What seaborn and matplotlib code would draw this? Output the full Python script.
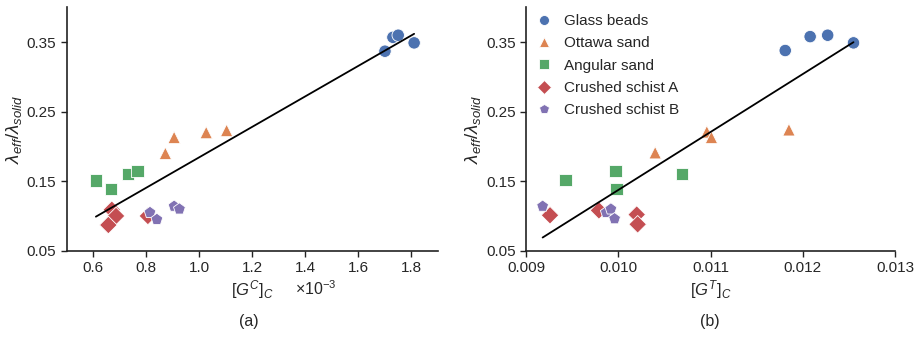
import numpy as np
import pandas as pd
import matplotlib
matplotlib.use("Agg")
import matplotlib.pyplot as plt
import matplotlib.ticker as mticker
import seaborn as sns

materials = ["Glass beads", "Ottawa sand", "Angular sand", "Crushed schist A", "Crushed schist B"]
markers = ["o", "^", "s", "D", "p"]

# Panel (a): [G^C]_C values
gc_glass = [1.700e-3, 1.730e-3, 1.750e-3, 1.810e-3]
gc_ottawa = [0.872e-3, 0.905e-3, 1.026e-3, 1.103e-3]
gc_angular = [0.610e-3, 0.666e-3, 0.731e-3, 0.767e-3]
gc_schistA = [0.670e-3, 0.686e-3, 0.657e-3, 0.806e-3]
gc_schistB = [0.814e-3, 0.840e-3, 0.905e-3, 0.925e-3]

lam_a_glass = [0.337, 0.357, 0.360, 0.349]
lam_a_ottawa = [0.190, 0.213, 0.220, 0.223]
lam_a_angular = [0.151, 0.139, 0.160, 0.165]
lam_a_schistA = [0.109, 0.100, 0.087, 0.100]
lam_a_schistB = [0.105, 0.095, 0.114, 0.110]

fit_a_x = [0.610e-3, 1.810e-3]
fit_a_y = [0.099, 0.362]

# Panel (b): [G^T]_C values
gt_glass = [0.01181, 0.01208, 0.01227, 0.01255]
gt_ottawa = [0.01040, 0.01096, 0.01101, 0.01185]
gt_angular = [0.00943, 0.00997, 0.00998, 0.01069]
gt_schistA = [0.00926, 0.00979, 0.01020, 0.01021]
gt_schistB = [0.00918, 0.00987, 0.00992, 0.00996]

lam_b_glass = [0.338, 0.358, 0.360, 0.349]
lam_b_ottawa = [0.191, 0.221, 0.213, 0.224]
lam_b_angular = [0.152, 0.165, 0.139, 0.160]
lam_b_schistA = [0.101, 0.108, 0.102, 0.088]
lam_b_schistB = [0.114, 0.105, 0.110, 0.096]

fit_b_x = [0.00918, 0.01255]
fit_b_y = [0.069, 0.350]

yticks = [0.05, 0.15, 0.25, 0.35]
xticks_a = [0.6e-3, 0.8e-3, 1.0e-3, 1.2e-3, 1.4e-3, 1.6e-3, 1.8e-3]
xticks_b = [0.009, 0.010, 0.011, 0.012, 0.013]


def build(xs, ys):
    rows = []
    for m, xv, yv in zip(materials, xs, ys):
        for a, b in zip(xv, yv):
            rows.append({"x": a, "y": b, "Material": m})
    return pd.DataFrame(rows)


df_a = build([gc_glass, gc_ottawa, gc_angular, gc_schistA, gc_schistB],
             [lam_a_glass, lam_a_ottawa, lam_a_angular, lam_a_schistA, lam_a_schistB])
df_b = build([gt_glass, gt_ottawa, gt_angular, gt_schistA, gt_schistB],
             [lam_b_glass, lam_b_ottawa, lam_b_angular, lam_b_schistA, lam_b_schistB])

sns.set_theme(style="ticks")
plt.rcParams["font.family"] = ["Liberation Sans", "DejaVu Sans"]
plt.rcParams["mathtext.fontset"] = "custom"
plt.rcParams["mathtext.it"] = "Liberation Sans:italic"
plt.rcParams["mathtext.rm"] = "Liberation Sans"
plt.rcParams["mathtext.sf"] = "Liberation Sans"

palette = sns.color_palette("deep", 5)

fig = plt.figure(figsize=(9.19, 3.37), dpi=100)
ax1 = fig.add_axes([0.0726, 0.256, 0.404, 0.722])
ax2 = fig.add_axes([0.5724, 0.256, 0.4015, 0.722])

for ax, df, fx, fy in [(ax1, df_a, fit_a_x, fit_a_y), (ax2, df_b, fit_b_x, fit_b_y)]:
    sns.scatterplot(data=df, x="x", y="y", hue="Material", style="Material",
                    markers=dict(zip(materials, markers)), palette=palette,
                    hue_order=materials, style_order=materials,
                    s=80, edgecolor="white", linewidth=0.6, ax=ax,
                    legend=(ax is ax2))
    sns.lineplot(x=fx, y=fy, color="black", linewidth=1.3, ax=ax)
    ax.set_ylim(0.05, 0.40)
    ax.set_yticks(yticks)
    ax.yaxis.set_major_formatter(mticker.FormatStrFormatter("%.2f"))
    ax.set_ylabel(r"$\lambda_{eff}/\lambda_{solid}$", fontsize=13.5, labelpad=2)
    ax.tick_params(labelsize=11, length=4, width=1, color="#222222")
    for sp in ax.spines.values():
        sp.set_linewidth(1.2)
        sp.set_color("#222222")
    sns.despine(ax=ax)

ax1.set_xlim(0.5e-3, 1.9e-3)
ax1.set_xticks(xticks_a)
ax1.xaxis.set_major_formatter(mticker.FuncFormatter(lambda v, p: f"{v*1e3:.1f}"))
ax1.set_xlabel(r"$[G^C]_C$", fontsize=12, labelpad=2)
fig.text(0.321, 0.143, r"$\times$10$^{-3}$", fontsize=11.5, ha="left", va="center")

ax2.set_xlim(0.009, 0.013)
ax2.set_xticks(xticks_b)
ax2.xaxis.set_major_formatter(mticker.FormatStrFormatter("%.3f"))
ax2.set_xlabel(r"$[G^T]_C$", fontsize=12, labelpad=2)

leg = ax2.legend(loc="upper left", frameon=False, fontsize=11, title=None,
                 bbox_to_anchor=(-0.03, 1.03), handletextpad=0.3, labelspacing=0.55,
                 markerscale=0.8)

fig.text(0.271, 0.045, "(a)", fontsize=11.5, ha="center", va="center")
fig.text(0.7726, 0.045, "(b)", fontsize=11.5, ha="center", va="center")

fig.savefig("out.png", dpi=100)
